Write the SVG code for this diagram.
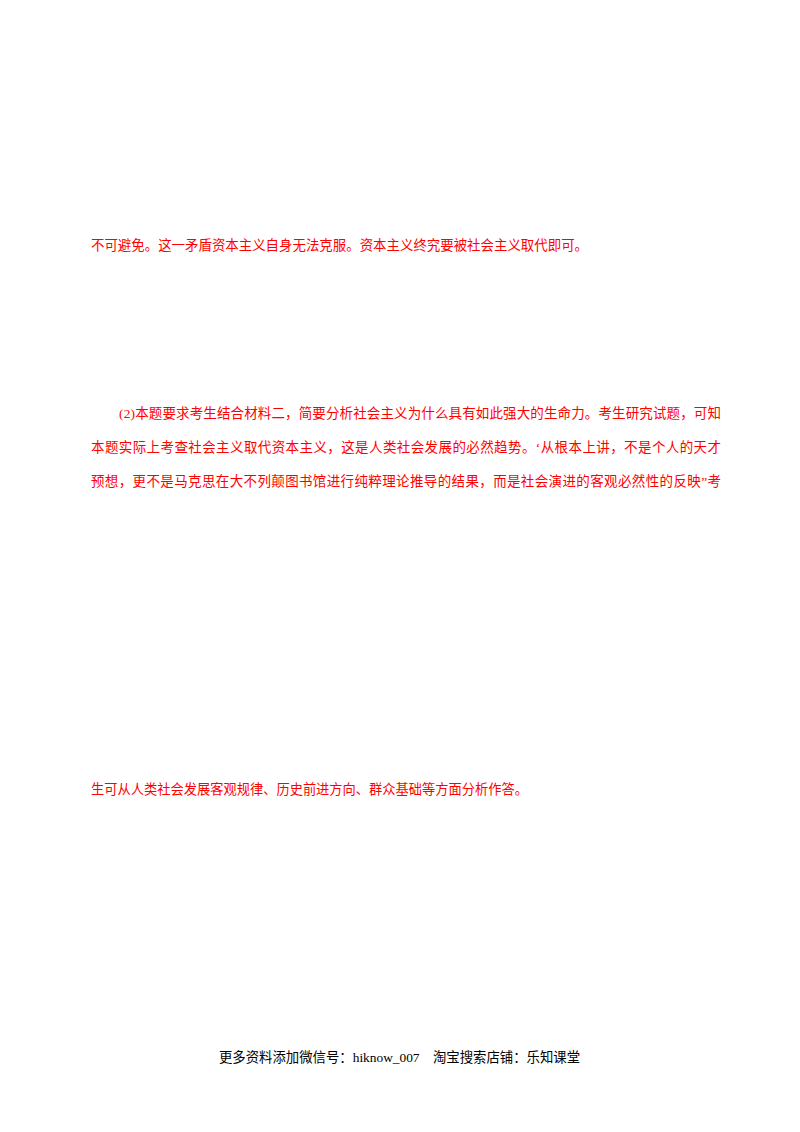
<svg xmlns="http://www.w3.org/2000/svg" width="800" height="1132" viewBox="0 0 800 1132">
<style>
.r{font-family:"Liberation Serif","Noto Sans CJK SC",serif;font-size:13.5px;fill:#ff0000}
.f{font-family:"Liberation Serif","Noto Sans CJK SC",serif;font-size:13.5px;fill:#000}
</style>
<rect width="800" height="1132" fill="#fff"/>
<text class="r" x="91" y="250" textLength="497" lengthAdjust="spacingAndGlyphs">不可避免。这一矛盾资本主义自身无法克服。资本主义终究要被社会主义取代即可。</text>
<text class="r" x="119" y="418" textLength="602" lengthAdjust="spacing">(2)本题要求考生结合材料二，简要分析社会主义为什么具有如此强大的生命力。考生研究试题，可知</text>
<text class="r" x="91" y="452" textLength="630" lengthAdjust="spacing">本题实际上考查社会主义取代资本主义，这是人类社会发展的必然趋势。‘从根本上讲，不是个人的天才</text>
<text class="r" x="91" y="486" textLength="630" lengthAdjust="spacing">预想，更不是马克思在大不列颠图书馆进行纯粹理论推导的结果，而是社会演进的客观必然性的反映”考</text>
<text class="r" x="91" y="794" textLength="437" lengthAdjust="spacingAndGlyphs">生可从人类社会发展客观规律、历史前进方向、群众基础等方面分析作答。</text>
<text class="f" x="219" y="1062" textLength="361" lengthAdjust="spacingAndGlyphs">更多资料添加微信号：hiknow_007　淘宝搜索店铺：乐知课堂</text>
</svg>
